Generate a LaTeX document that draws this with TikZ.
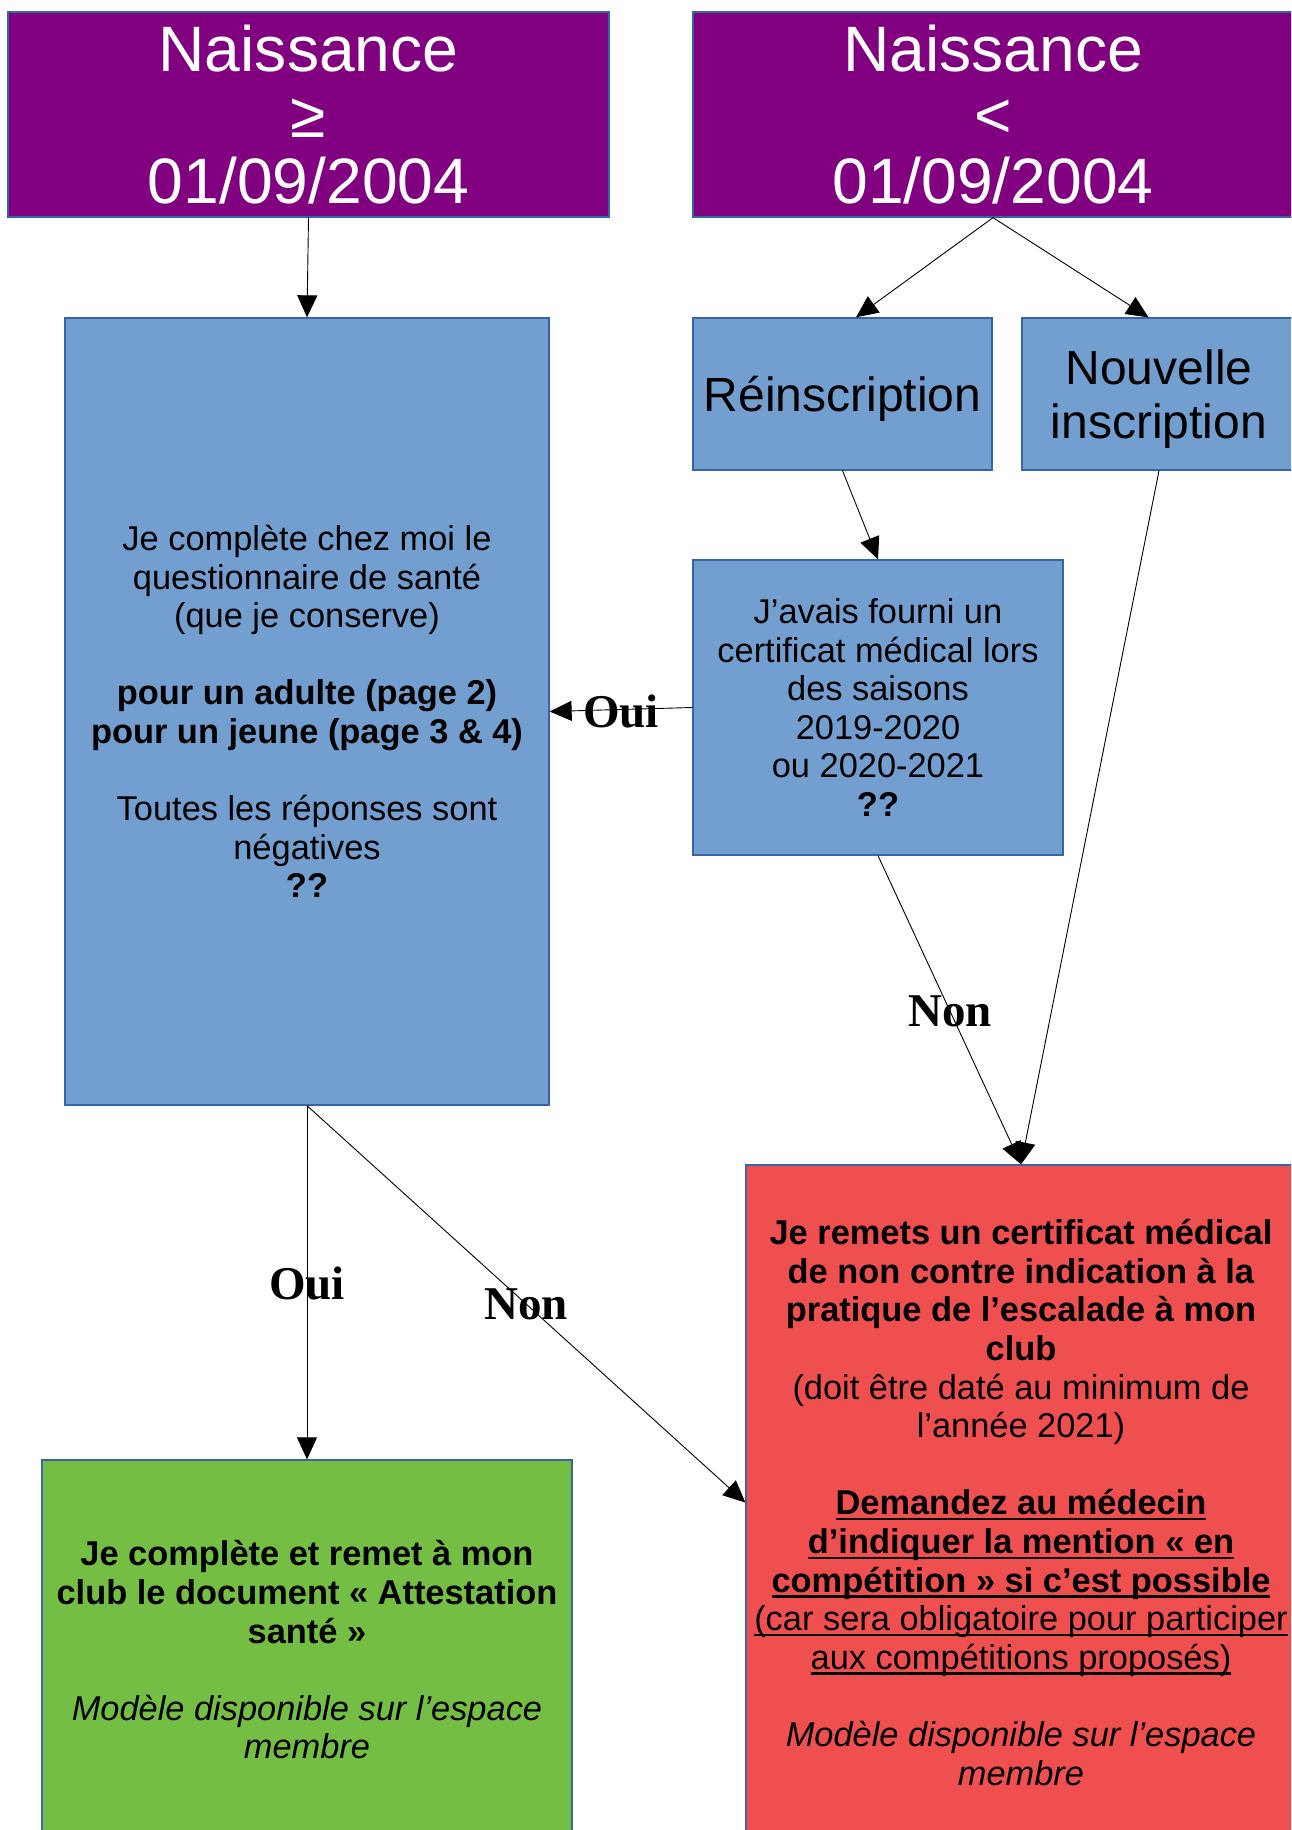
\documentclass[tikz,border=0pt]{standalone}
\usepackage{fontspec}
\setmainfont{Liberation Sans}
\newfontfamily\lblfont{Liberation Serif}
\usetikzlibrary{arrows.meta}
\newsavebox{\myulbox}
\newcommand{\myul}[1]{\sbox{\myulbox}{#1}\rlap{\rule[-5.4pt]{\wd\myulbox}{2.4pt}}\usebox{\myulbox}}
\definecolor{purplebox}{HTML}{800080}
\definecolor{bluebox}{HTML}{729FCF}
\definecolor{redbox}{HTML}{F04F4F}
\definecolor{greenbox}{HTML}{74BE44}
\definecolor{borderblue}{HTML}{3465A4}
\tikzset{
  box/.style={draw=borderblue, line width=1.3pt, inner sep=0pt, align=center, anchor=center},
  purplebox/.style={box, fill=purplebox, text=white, font=\fontsize{64.2}{66}\selectfont},
  bluebox/.style={box, fill=bluebox, font=\fontsize{34.4}{38.6}\selectfont},
  bigblue/.style={box, fill=bluebox},
  bigtext/.style={inner sep=0pt, align=center, font=\fontsize{48}{53.7}\selectfont},
  redbox/.style={box, fill=redbox, font=\fontsize{34.4}{38.6}\selectfont},
  greenbox/.style={box, fill=greenbox, font=\fontsize{34.4}{38.6}\selectfont},
  conn/.style={draw=black, line width=0.9pt, -{Triangle[length=22pt,width=20pt]}},
  lbl/.style={font=\lblfont\bfseries\fontsize{47}{50}\selectfont, inner sep=0pt}
}
\begin{document}
\begin{tikzpicture}[x=1pt,y=-1pt]
\useasboundingbox (0,0) rectangle (1291,1830);
\clip (0,0) rectangle (1291,1830);

\node[purplebox, minimum width=601pt, minimum height=205pt] (p1) at (308.5,114.5)
  {Naissance\\≥\\01/09/2004};
\node[purplebox, minimum width=600pt, minimum height=205pt] (p2) at (993,114.5)
  {Naissance\\<\\01/09/2004};

\node[bluebox, minimum width=484pt, minimum height=787pt] (q) at (307,711.5)
  {Je complète chez moi le\\questionnaire de santé\\(que je conserve)\\\strut\\
   \textbf{pour un adulte (page 2)}\\\textbf{pour un jeune (page 3 \& 4)}\\\strut\\
   Toutes les réponses sont\\négatives\\\textbf{??}};

\node[bigblue, minimum width=299pt, minimum height=152pt] (r) at (842.5,394) {};
\node[bigtext] (rt) at ([yshift=-5pt]r.center) {Réinscription};
\node[bigblue, minimum width=274pt, minimum height=152pt] (n) at (1159,394) {};
\node[bigtext] (nt) at ([yshift=-5pt]n.center) {Nouvelle\\inscription};

\node[bluebox, minimum width=370pt, minimum height=295pt] (j) at (878,707.5)
  {J’avais fourni un\\certificat médical lors\\des saisons\\2019-2020\\ou 2020-2021\\\textbf{??}};

\node[redbox, minimum width=550pt, minimum height=675pt] (red) at (1021,1502.5)
  {\textbf{Je remets un certificat médical}\\\textbf{de non contre indication à la}\\
   \textbf{pratique de l’escalade à mon}\\\textbf{club}\\
   (doit être daté au minimum de\\l’année 2021)\\\strut\\
   \myul{\textbf{Demandez au médecin}}\\\myul{\textbf{d’indiquer la mention « en}}\\
   \myul{\textbf{compétition » si c’est possible}}\\
   \myul{(car sera obligatoire pour participer}\\\myul{aux compétitions proposés)}\\\strut\\
   \textit{Modèle disponible sur l’espace}\\\textit{membre}};

\node[greenbox, minimum width=530pt, minimum height=380pt] (g) at (307,1650)
  {\textbf{Je complète et remet à mon}\\\textbf{club le document « Attestation}\\\textbf{santé »}\\\strut\\
   \textit{Modèle disponible sur l’espace}\\\textit{membre}};

\coordinate (rtip) at ([xshift=13.5pt]r.north);
\coordinate (ntip) at ([xshift=-10.5pt]n.north);
\coordinate (redleft) at (red.west);

\draw[conn] (p1.south) -- (q.north);
\draw[conn] (p2.south) -- (rtip);
\draw[conn] (p2.south) -- (ntip);
\draw[conn] (r.south) -- (j.north);
\draw[conn] (j.west) -- (q.east);
\draw[conn] (j.south) -- (red.north);
\draw[conn] (n.south) -- (red.north);
\draw[conn] (q.south) -- (g.north);
\draw[conn] (q.south) -- (redleft);

\node[lbl] (l1) at (621,711) {Oui};
\node[lbl] (l2) at (950,1011) {Non};
\node[lbl] (l3) at (307,1283) {Oui};
\node[lbl] (l4) at (526,1304) {Non};
\end{tikzpicture}
\end{document}
